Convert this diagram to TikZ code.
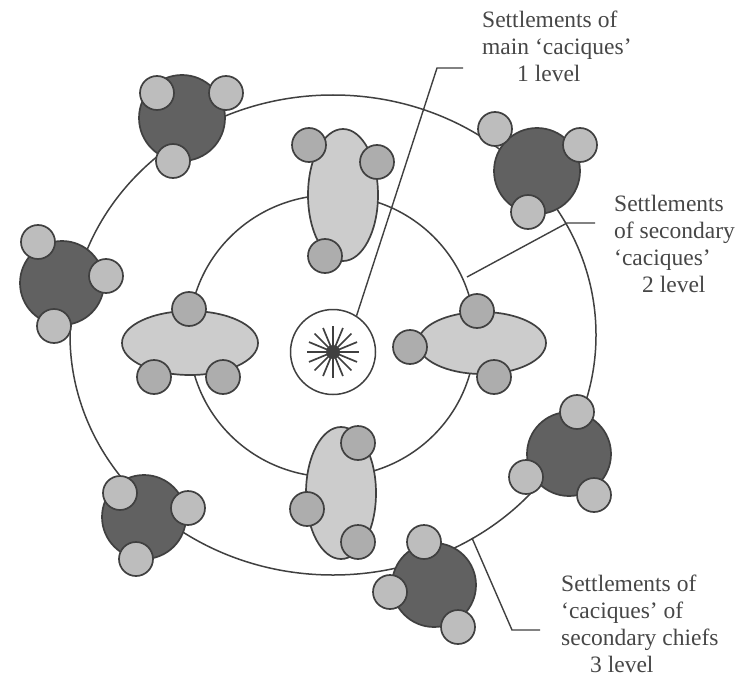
\documentclass[tikz,border=0pt]{standalone}
\usepackage{fontspec}
\setmainfont{Liberation Serif}
\definecolor{ink}{gray}{0.25}
\definecolor{darkfill}{gray}{0.38}
\definecolor{lightfill}{gray}{0.80}
\definecolor{smallfill}{gray}{0.68}
\definecolor{smalllight}{gray}{0.74}
\definecolor{textgray}{gray}{0.28}
\begin{document}
\begin{tikzpicture}[x=1pt,y=-1pt,
  ring/.style={draw=ink,line width=1.5pt},
  chief/.style={draw=ink,line width=1.7pt,fill=darkfill},
  cluster/.style={draw=ink,line width=1.7pt,fill=lightfill},
  hamlet/.style={draw=ink,line width=1.7pt,fill=smallfill},
  hamletl/.style={draw=ink,line width=1.7pt,fill=smalllight},
  leader/.style={draw=ink,line width=1.4pt},
  lbl/.style={inner sep=0pt,align=left,anchor=north west,text=textgray,
    font=\fontsize{23.5}{27}\selectfont}]
\useasboundingbox (0,0) rectangle (735,679);
\fill[white] (0,0) rectangle (735,679);

% rings
\draw[ring] (333,335) ellipse [x radius=263pt, y radius=240pt];
\draw[ring] (332,336) ellipse [x radius=143pt, y radius=141pt];

% centre
\node[circle,draw=ink,line width=1.5pt,fill=white,minimum size=85pt,inner sep=0pt] (core) at (333,352) {};
\foreach \a in {0,22.5,...,337.5}
  \draw[ink,line width=1.7pt] (core.center) -- ++(\a:26pt);
\fill[ink] (core.center) circle [radius=7pt];

% second level clusters (light ellipses)
\draw[cluster] (343,195) ellipse [x radius=35pt, y radius=66pt];
\foreach \p in {(309,145),(377,162),(325,256)} \draw[hamlet] \p circle [radius=17pt];

\draw[cluster] (341,493) ellipse [x radius=35pt, y radius=66pt];
\foreach \p in {(358,443),(307,509),(358,542)} \draw[hamlet] \p circle [radius=17pt];

\draw[cluster] (190,343) ellipse [x radius=68pt, y radius=32pt];
\foreach \p in {(189,309),(154,377),(223,377)} \draw[hamlet] \p circle [radius=17pt];

\draw[cluster] (482,343) ellipse [x radius=64pt, y radius=31pt];
\foreach \p in {(477,311),(410,347),(494,377)} \draw[hamlet] \p circle [radius=17pt];

% third level chiefs (dark circles)
\draw[chief] (182,118) circle [radius=43pt];
\foreach \p in {(157,93),(226,93),(173,161)} \draw[hamletl] \p circle [radius=17pt];

\draw[chief] (62,283) circle [radius=42pt];
\foreach \p in {(38,242),(106,276),(54,326)} \draw[hamletl] \p circle [radius=17pt];

\draw[chief] (144,517) circle [radius=42pt];
\foreach \p in {(120,493),(188,508),(136,559)} \draw[hamletl] \p circle [radius=17pt];

\draw[chief] (434,585) circle [radius=42pt];
\foreach \p in {(424,542),(390,592),(458,627)} \draw[hamletl] \p circle [radius=17pt];

\draw[chief] (569,454) circle [radius=42pt];
\foreach \p in {(577,412),(526,477),(594,495)} \draw[hamletl] \p circle [radius=17pt];

\draw[chief] (537,171) circle [radius=43pt];
\foreach \p in {(495,129),(580,145),(528,212)} \draw[hamletl] \p circle [radius=17pt];

% labels
\node[lbl] (t1) at (482,11) {Settlements of\\main ‘caciques’\\\hspace*{35pt}1 level};
\node[lbl] (t2) at (614,195) {Settlements\\of secondary\\‘caciques’\\\hspace*{28pt}2 level};
\node[lbl] (t3) at (561,575) {Settlements of\\‘caciques’ of\\secondary chiefs\\\hspace*{29pt}3 level};

% leaders
\coordinate (b1) at (437,68);
\coordinate (e1) at (463,68);
\draw[leader] (core.57) -- (b1) -- (e1);

\coordinate (s2) at (467,277);
\coordinate (b2) at (567,223);
\coordinate (e2) at (595,223);
\draw[leader] (s2) -- (b2) -- (e2);

\coordinate (s3) at (472,538);
\coordinate (b3) at (512,630);
\coordinate (e3) at (540,630);
\draw[leader] (s3) -- (b3) -- (e3);
\end{tikzpicture}
\end{document}
